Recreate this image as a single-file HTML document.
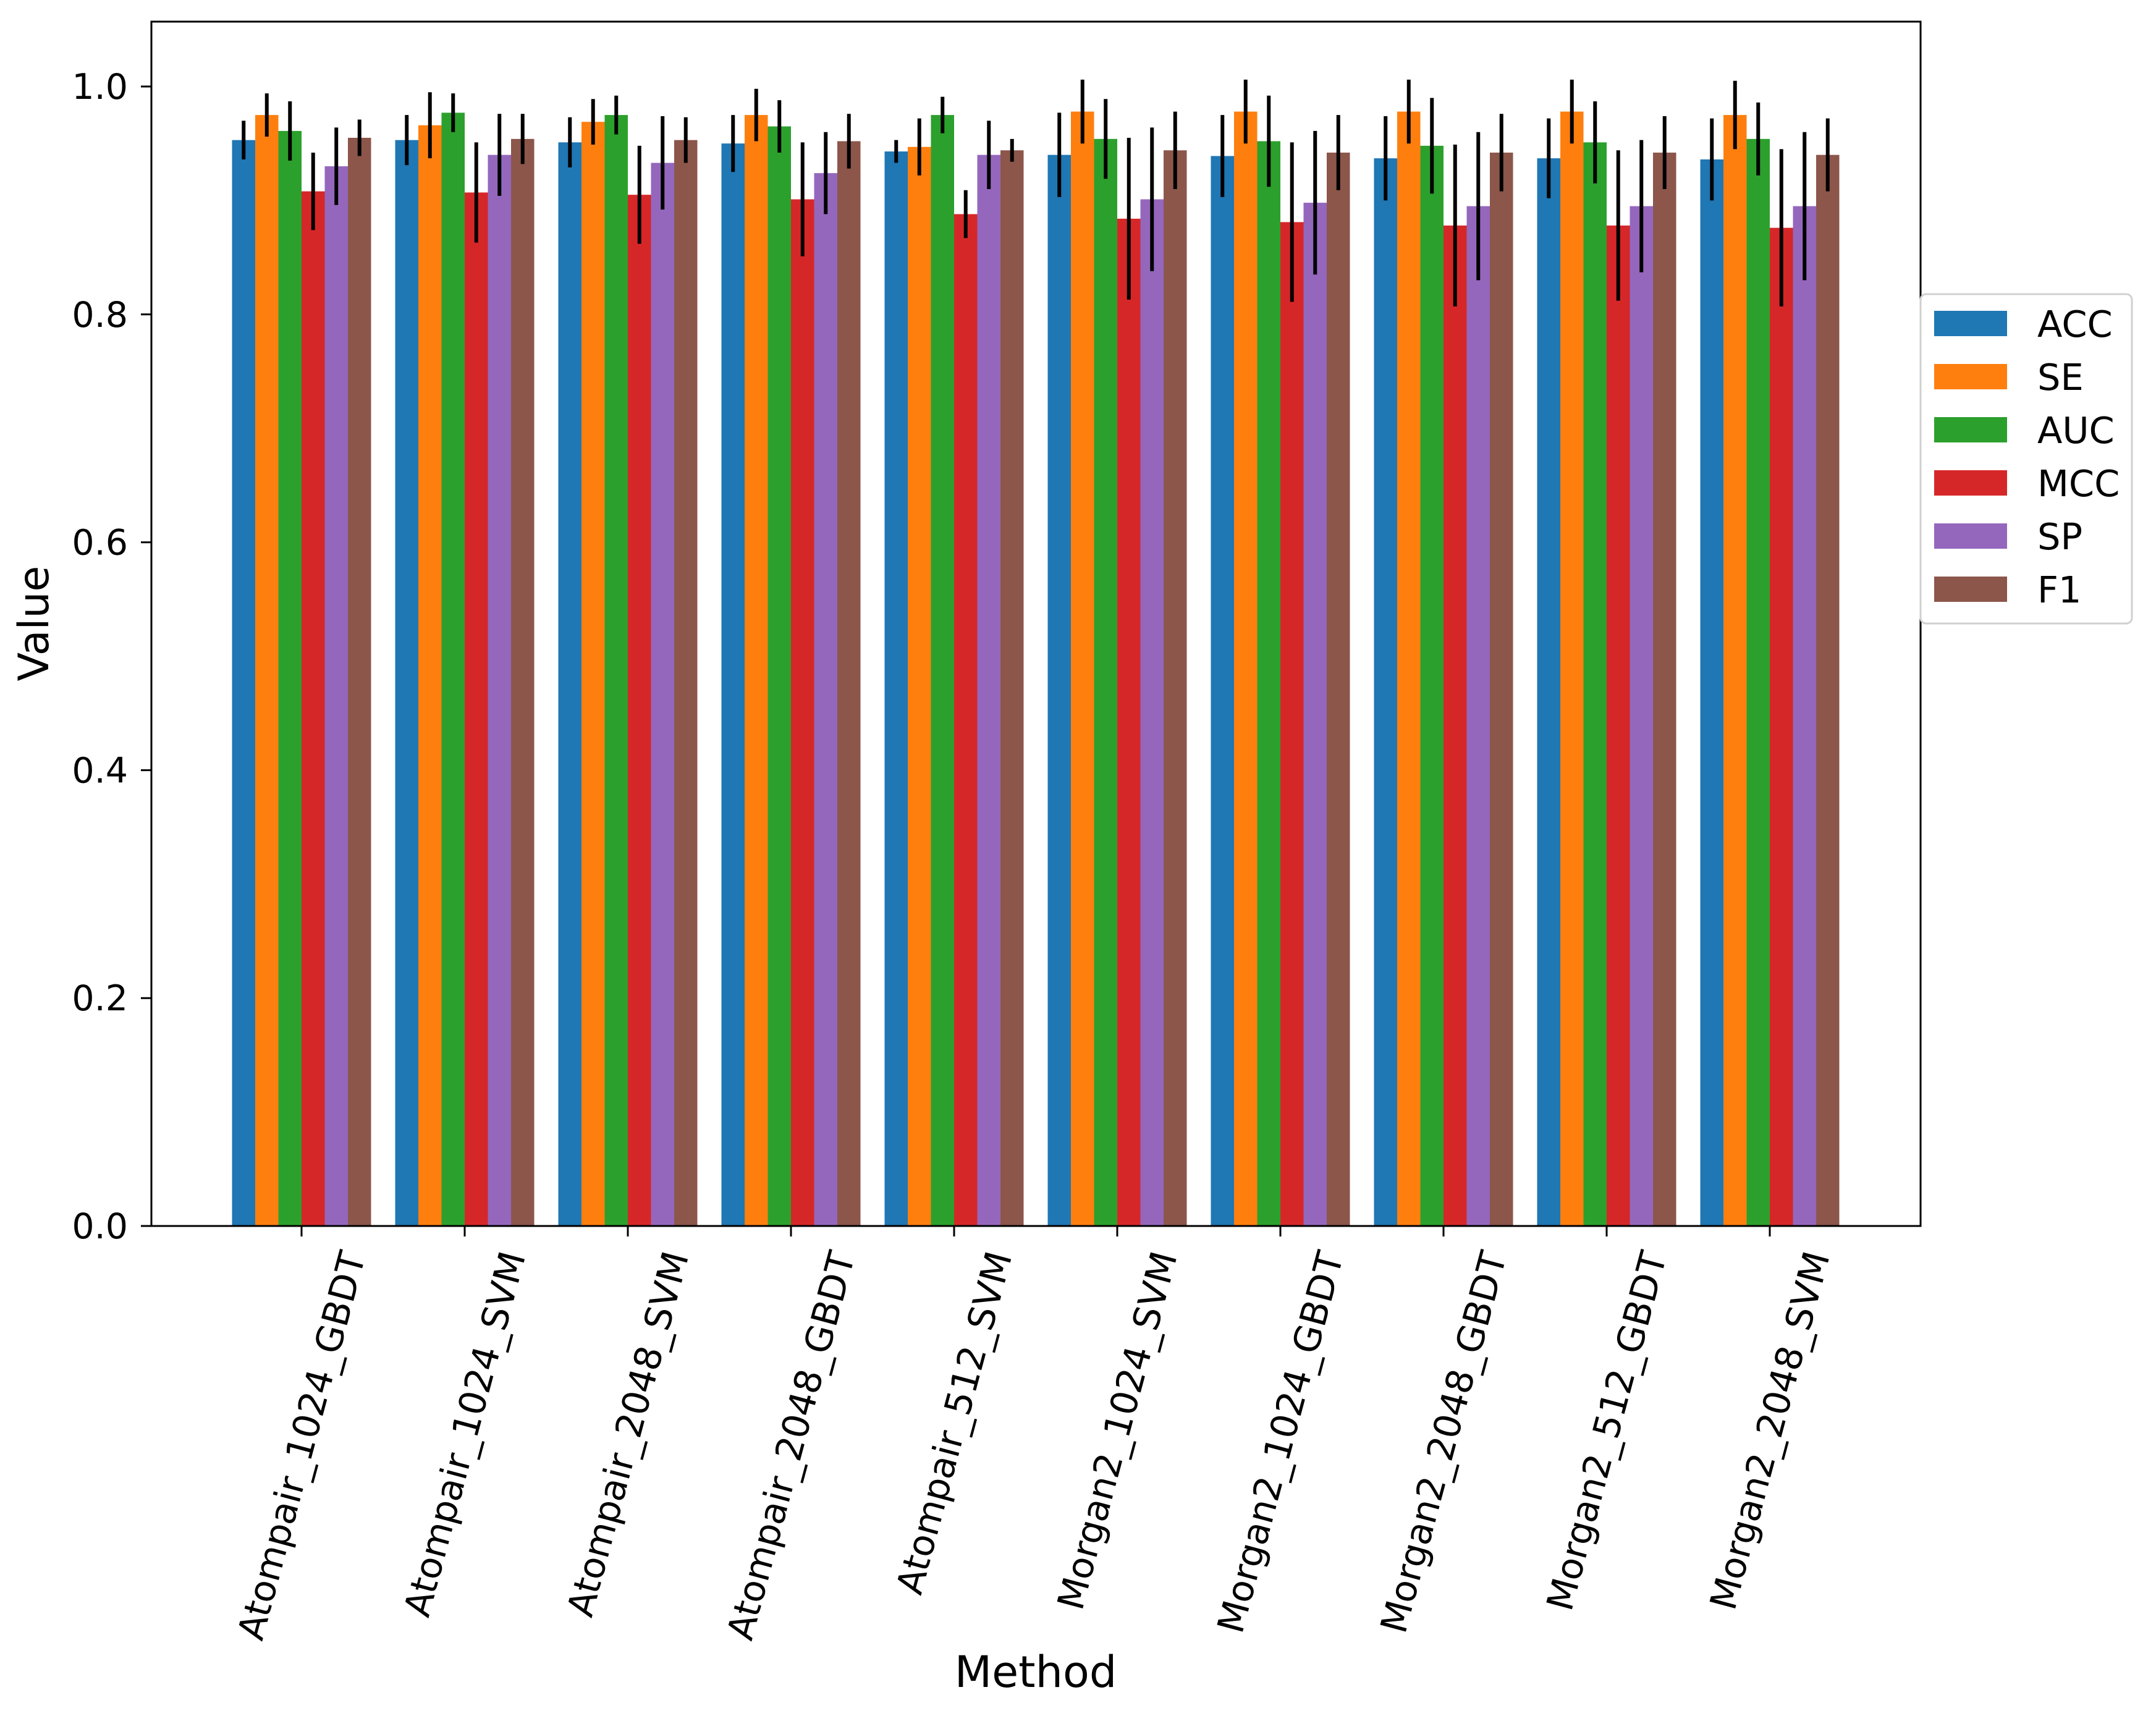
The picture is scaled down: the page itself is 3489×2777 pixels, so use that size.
<!DOCTYPE html>
<html><head><meta charset="utf-8"><style>
html,body{margin:0;padding:0;background:#fff;}
svg{display:block;font-family:"DejaVu Sans","Liberation Sans",sans-serif;}
</style></head><body>
<svg id="chart" width="3489" height="2777" viewBox="0 0 3489 2777" xmlns="http://www.w3.org/2000/svg">
<rect width="3489" height="2777" fill="#fff"/>
<g id="bars"></g>
<g id="errs"></g>
<g id="axes"></g>
<g id="legend"></g>
</svg>
<script>
const categories = ["Atompair_1024_GBDT","Atompair_1024_SVM","Atompair_2048_SVM","Atompair_2048_GBDT","Atompair_512_SVM","Morgan2_1024_SVM","Morgan2_1024_GBDT","Morgan2_2048_GBDT","Morgan2_512_GBDT","Morgan2_2048_SVM"];
const seriesNames = ["ACC","SE","AUC","MCC","SP","F1"];
const seriesColors = ["#1f77b4","#ff7f0e","#2ca02c","#d62728","#9467bd","#8c564b"];
const accVals = [0.953,0.953,0.951,0.950,0.943,0.940,0.939,0.937,0.937,0.936];
const seVals  = [0.975,0.966,0.969,0.975,0.947,0.978,0.978,0.978,0.978,0.975];
const aucVals = [0.961,0.977,0.975,0.965,0.975,0.954,0.952,0.948,0.951,0.954];
const mccVals = [0.908,0.907,0.905,0.901,0.888,0.884,0.881,0.878,0.878,0.876];
const spVals  = [0.930,0.940,0.933,0.924,0.940,0.901,0.898,0.895,0.895,0.895];
const f1Vals  = [0.955,0.954,0.953,0.952,0.944,0.944,0.942,0.942,0.942,0.940];
const accErr = [0.017,0.022,0.022,0.025,0.010,0.037,0.036,0.037,0.035,0.036];
const seErr  = [0.019,0.029,0.020,0.023,0.025,0.028,0.028,0.028,0.028,0.030];
const aucErr = [0.026,0.017,0.017,0.023,0.016,0.035,0.040,0.042,0.036,0.032];
const mccErr = [0.034,0.044,0.043,0.050,0.021,0.071,0.070,0.071,0.066,0.069];
const spErr  = [0.034,0.036,0.041,0.036,0.030,0.063,0.063,0.065,0.058,0.065];
const f1Err  = [0.016,0.022,0.020,0.024,0.010,0.034,0.033,0.034,0.032,0.032];
const yTicks = [0.0,0.2,0.4,0.6,0.8,1.0];
const yTickLabels = ["0.0","0.2","0.4","0.6","0.8","1.0"];

const NS="http://www.w3.org/2000/svg";
const L=245,R=3108,T=35,B=1984;
const yScale=v=>B-(v*1844);
const groupStep=264, firstTick=488, barW=37.5;
const xCenter=i=>firstTick+i*groupStep;
function mk(tag,attrs,parent){const e=document.createElementNS(NS,tag);for(const k in attrs)e.setAttribute(k,attrs[k]);parent.appendChild(e);return e;}
const vals=[accVals,seVals,aucVals,mccVals,spVals,f1Vals];
const errs=[accErr,seErr,aucErr,mccErr,spErr,f1Err];
const gb=document.getElementById('bars'), ge=document.getElementById('errs'), ga=document.getElementById('axes'), gl=document.getElementById('legend');
for(let s=0;s<6;s++){
  for(let i=0;i<categories.length;i++){
    const cx=xCenter(i)+(s-2.5)*barW;
    const y=yScale(vals[s][i]);
    const r=mk('rect',{x:cx-barW/2,y:y,width:barW,height:B-y,fill:seriesColors[s]},gb);
    
    
    const e=mk('line',{x1:cx,x2:cx,y1:yScale(vals[s][i]+errs[s][i]),y2:yScale(vals[s][i]-errs[s][i]),stroke:'#000','stroke-width':6},ge);
    
    
  }
}
const fr=mk('rect',{x:L,y:T,width:R-L,height:B-T,fill:'none',stroke:'#000','stroke-width':3},ga);


for(let k=0;k<yTicks.length;k++){
  const y=yScale(yTicks[k]);
  mk('line',{x1:L-17,x2:L,y1:y,y2:y,stroke:'#000','stroke-width':3},ga);
  const t=mk('text',{x:207,y:y+20,'text-anchor':'end','font-size':57,fill:'#000'},ga);
  t.textContent=yTickLabels[k];
  
  
}
const ang=75*Math.PI/180;
for(let i=0;i<categories.length;i++){
  const x=xCenter(i);
  mk('line',{x1:x,x2:x,y1:B,y2:B+17,stroke:'#000','stroke-width':3},ga);
  const t=mk('text',{x:0,y:0,'text-anchor':'middle','dominant-baseline':'central','font-size':59,fill:'#000'},ga);
  t.textContent=categories[i];
  
  
  const len=t.getComputedTextLength();
  const h=59*1.17;
  const bh=len*Math.sin(ang)+h*Math.cos(ang);
  const cy=2018+bh/2;
  t.setAttribute('transform','translate('+x+','+cy+') rotate(-75)');
}
const yl=mk('text',{x:0,y:0,'text-anchor':'middle','font-size':68,fill:'#000',transform:'translate(78,1009) rotate(-90)'},ga);
yl.textContent='Value';


const xl=mk('text',{x:1676,y:2730,'text-anchor':'middle','font-size':70,fill:'#000'},ga);
xl.textContent='Method';


const lb=mk('rect',{x:3108,y:476,width:342,height:533,rx:9,fill:'#fff','fill-opacity':0.8,stroke:'#d0d0d0','stroke-width':3},gl);


for(let s=0;s<6;s++){
  const y=503+s*86;
  const p=mk('rect',{x:3130,y:y,width:118,height:41,fill:seriesColors[s]},gl);
  
  
  const t=mk('text',{x:3297,y:y+42,'font-size':59,fill:'#000'},gl);
  t.textContent=seriesNames[s];
  
  
}
</script>
</body></html>
